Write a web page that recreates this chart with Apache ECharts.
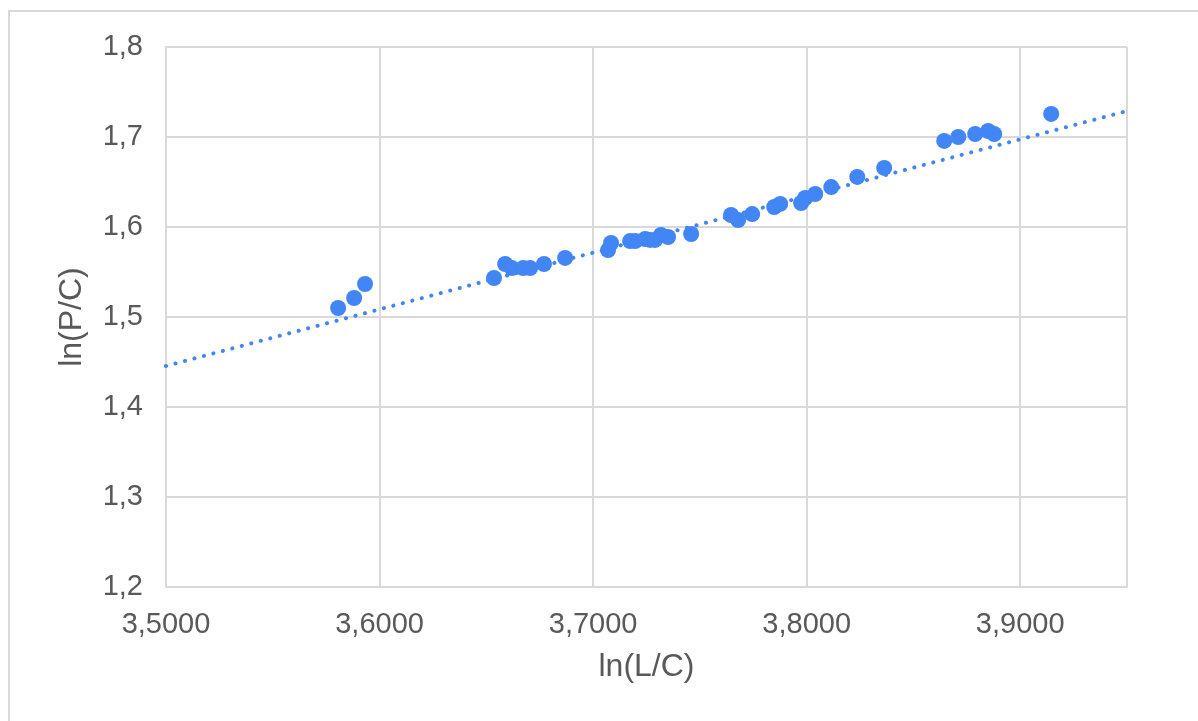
<!DOCTYPE html>
<html>
<head>
<meta charset="utf-8">
<title>ln(P/C) vs ln(L/C)</title>
<script src="https://cdn.jsdelivr.net/npm/echarts@6/dist/echarts.min.js"></script>
<style>
  html, body { margin: 0; padding: 0; background: #fff; }
  #chart { width: 1198px; height: 721px; }
</style>
</head>
<body>
<div id="chart"></div>
<script>
// ln(L/C) and ln(P/C)
var lnLC = [
  3.5806, 3.5881, 3.5932, 3.6536, 3.6588, 3.6620, 3.6672, 3.6705, 3.6770, 3.6869,
  3.7070, 3.7084, 3.7173, 3.7197, 3.7244, 3.7267, 3.7290, 3.7318, 3.7351, 3.7459,
  3.7646, 3.7679, 3.7745, 3.7848, 3.7876, 3.7974, 3.7993, 3.8040, 3.8115, 3.8237,
  3.8363, 3.8644, 3.8710, 3.8789, 3.8850, 3.8878, 3.9145
]
var lnPC = [
  1.5100, 1.5211, 1.5367, 1.5433, 1.5589, 1.5544, 1.5544, 1.5544, 1.5589, 1.5656,
  1.5744, 1.5822, 1.5844, 1.5844, 1.5867, 1.5856, 1.5856, 1.5911, 1.5889, 1.5922,
  1.6133, 1.6078, 1.6144, 1.6222, 1.6256, 1.6267, 1.6322, 1.6367, 1.6444, 1.6556,
  1.6656, 1.6956, 1.7000, 1.7033, 1.7067, 1.7033, 1.7256
]
// linear trendline ends
var trendX = [3.5, 3.95]
var trendY = [1.4456, 1.7289]

var points = lnLC.map(function(x, i) { return [x, lnPC[i]] })
var trend = trendX.map(function(x, i) { return [x, trendY[i]] })

function comma(v, d) {
  return v.toFixed(d).replace('.', ',')
}

var chart = echarts.init(document.getElementById('chart'))
chart.setOption({
  animation: false,
  textStyle: { fontFamily: 'Liberation Sans, Arial, sans-serif' },
  graphic: [{
    type: 'rect',
    shape: { x: 9, y: 11, width: 1400, height: 900 },
    style: { fill: 'none', stroke: '#d9d9d9', lineWidth: 2 },
    silent: true
  }],
  grid: { left: 166, top: 47, right: 71, bottom: 134 },
  xAxis: {
    type: 'value',
    min: 3.5,
    max: 3.95,
    interval: 0.1,
    name: 'ln(L/C)',
    nameLocation: 'middle',
    nameGap: 64,
    nameTextStyle: { color: '#595959', fontSize: 32 },
    axisLine: { show: true, lineStyle: { color: '#d9d9d9', width: 2 } },
    axisTick: { show: false },
    axisLabel: {
      color: '#595959',
      fontSize: 29,
      margin: 23,
      showMaxLabel: false,
      formatter: function(v) { return comma(v, 4) }
    },
    splitLine: { show: true, lineStyle: { color: '#d9d9d9', width: 2 } }
  },
  yAxis: {
    type: 'value',
    min: 1.2,
    max: 1.8,
    interval: 0.1,
    name: 'ln(P/C)',
    nameLocation: 'middle',
    nameGap: 78,
    nameTextStyle: { color: '#595959', fontSize: 32 },
    axisLine: { show: true, lineStyle: { color: '#d9d9d9', width: 2 } },
    axisTick: { show: false },
    axisLabel: {
      color: '#595959',
      fontSize: 29,
      margin: 23,
      formatter: function(v) { return comma(v, 1) }
    },
    splitLine: { show: true, lineStyle: { color: '#d9d9d9', width: 2 } }
  },
  series: [
    {
      name: 'trend',
      type: 'line',
      data: trend,
      symbol: 'none',
      z: 1,
      lineStyle: { color: '#4285f4', width: 4, type: [0.1, 9.7], cap: 'round' }
    },
    {
      name: 'ln(P/C)',
      type: 'scatter',
      data: points,
      symbolSize: 16,
      z: 2,
      itemStyle: { color: '#4285f4', opacity: 1 }
    }
  ]
})
</script>
</body>
</html>
